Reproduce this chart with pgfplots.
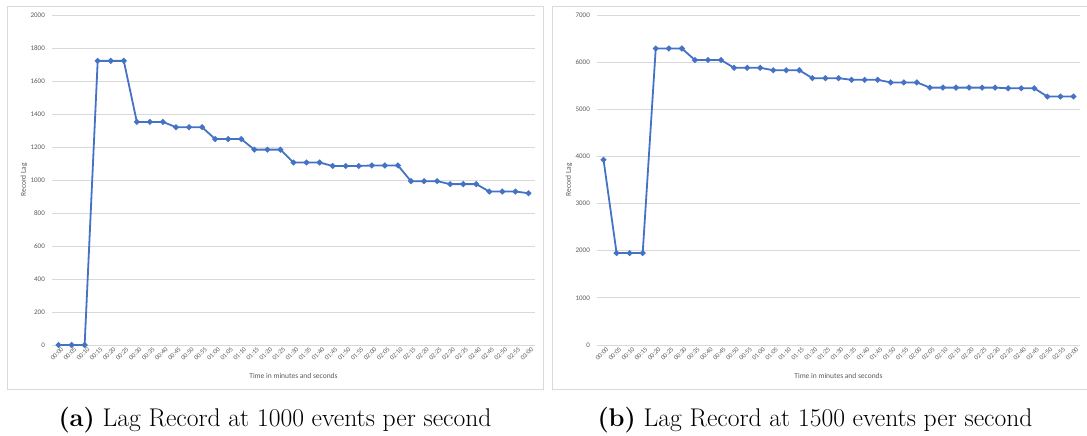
\documentclass[border=0pt]{standalone}
\usepackage{pgfplots}
\pgfplotsset{compat=1.18}
\usepackage{fontspec}
\newfontfamily\chartfont{Carlito}
\definecolor{xlblue}{HTML}{4472C4}
\definecolor{xlgrid}{HTML}{D9D9D9}
\definecolor{xltext}{HTML}{595959}
\pgfplotsset{xlstyle/.style={
  scale only axis, width=483pt, height=330pt,
  xmin=-0.5, xmax=36.5, ymin=0,
  xtick={0,...,36},
  xticklabels={00:00,00:05,00:10,00:15,00:20,00:25,00:30,00:35,00:40,00:45,00:50,00:55,01:00,01:05,01:10,01:15,01:20,01:25,01:30,01:35,01:40,01:45,01:50,01:55,02:00,02:05,02:10,02:15,02:20,02:25,02:30,02:35,02:40,02:45,02:50,02:55,03:00},
  axis line style={draw=none},
  major tick length=0pt,
  ymajorgrids, major grid style={draw=xlgrid, line width=0.8pt},
  tick label style={font=\chartfont\fontsize{6.6}{7.5}\selectfont, text=xltext},
  yticklabel style={font=\chartfont\fontsize{7}{8}\selectfont},
  /pgf/number format/assume math mode=true,
  /pgf/number format/1000 sep={},
  scaled y ticks=false,
  xticklabel style={rotate=45, anchor=east, inner sep=0.5pt, yshift=-5pt, xshift=1pt},
  yticklabel style={anchor=east, inner sep=0pt, xshift=-7pt},
  every axis x label/.style={at={(axis description cs:0.5,-0.094)}, anchor=center, font=\chartfont\fontsize{7.5}{9}\selectfont, text=xltext},
  every axis y label/.style={at={(axis description cs:-0.058,0.5)}, rotate=90, anchor=center, font=\chartfont\fontsize{7.5}{9}\selectfont, text=xltext},
  xlabel={Time in minutes and seconds}, ylabel={Record Lag},
  clip=false,
}}
\begin{document}
\begin{tikzpicture}
\path[use as bounding box] (0pt,0pt) rectangle (1087pt,436pt);
\draw[xlgrid, line width=1pt] (7pt,46pt) rectangle (543pt,429pt);
\draw[xlgrid, line width=1pt] (1087pt,429pt) -- (552pt,429pt) -- (552pt,46pt) -- (1087pt,46pt);
\begin{axis}[xlstyle, at={(52pt,91pt)}, anchor=south west, ymax=2000, ytick={0,200,...,2000}]
\addplot[xlblue, line width=1.8pt, mark=*, mark size=1.9pt, mark options={fill=xlblue, draw=xlblue}] coordinates {
(0,0)(1,0)(2,0)(3,1722)(4,1722)(5,1722)(6,1352)(7,1352)(8,1352)(9,1320)(10,1320)(11,1320)(12,1248)(13,1248)(14,1248)(15,1184)(16,1184)(17,1184)(18,1106)(19,1106)(20,1106)(21,1085)(22,1085)(23,1085)(24,1088)(25,1088)(26,1088)(27,993)(28,993)(29,993)(30,975)(31,975)(32,975)(33,930)(34,930)(35,930)(36,920)};
\end{axis}
\begin{axis}[xlstyle, at={(597pt,91pt)}, anchor=south west, ymax=7000, ytick={0,1000,...,7000}]
\addplot[xlblue, line width=1.8pt, mark=*, mark size=1.9pt, mark options={fill=xlblue, draw=xlblue}] coordinates {
(0,3930)(1,1950)(2,1950)(3,1950)(4,6290)(5,6290)(6,6290)(7,6045)(8,6045)(9,6045)(10,5880)(11,5880)(12,5880)(13,5828)(14,5828)(15,5828)(16,5660)(17,5660)(18,5660)(19,5625)(20,5625)(21,5625)(22,5570)(23,5570)(24,5570)(25,5460)(26,5460)(27,5460)(28,5460)(29,5460)(30,5460)(31,5445)(32,5445)(33,5445)(34,5270)(35,5270)(36,5270)};
\end{axis}
\node[anchor=base, inner sep=0pt] at (275pt,9.3pt) {\fontsize{25.6}{30}\selectfont\textbf{(a)} Lag Record at 1000 events per second};
\node[anchor=base, inner sep=0pt] at (815pt,9.3pt) {\fontsize{25.6}{30}\selectfont\textbf{(b)} Lag Record at 1500 events per second};
\end{tikzpicture}
\end{document}
